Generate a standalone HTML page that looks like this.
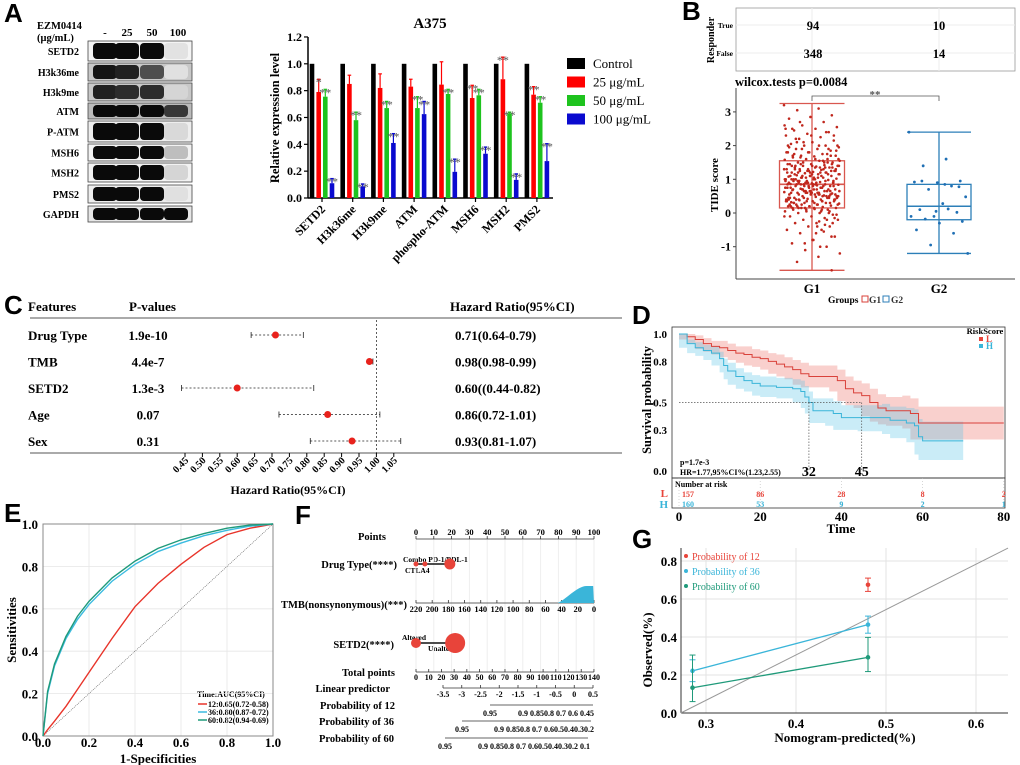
<!DOCTYPE html>
<html><head><meta charset="utf-8">
<style>
html,body{margin:0;padding:0;background:#fff;}
svg{display:block;font-family:"Liberation Serif",serif;}
.b{font-weight:bold;}
.L{font-family:"Liberation Sans",sans-serif;font-weight:bold;}
</style></head>
<body>
<svg id="fig" width="1020" height="765" viewBox="0 0 1020 765" xmlns="http://www.w3.org/2000/svg">
<rect width="1020" height="765" fill="#fff"/>
<text class="L" x="4" y="22" font-size="26">A</text>
<text class="L" x="682" y="20" font-size="26">B</text>
<text class="L" x="4" y="314" font-size="26">C</text>
<text class="L" x="632" y="324" font-size="26">D</text>
<text class="L" x="4" y="522" font-size="26">E</text>
<text class="L" x="295" y="524" font-size="26">F</text>
<text class="L" x="632" y="548" font-size="26">G</text>

<g id="blot" font-size="11" class="b">
<text x="37" y="29" font-size="10.5" font-weight="bold">EZM0414</text>
<text x="37" y="41" font-size="10.5" font-weight="bold">(μg/mL)</text>
<text x="105" y="36" font-weight="bold" text-anchor="middle">-</text>
<text x="127" y="36" font-weight="bold" text-anchor="middle">25</text>
<text x="152" y="36" font-weight="bold" text-anchor="middle">50</text>
<text x="178" y="36" font-weight="bold" text-anchor="middle">100</text>
</g>

<g id="barchart">
<text x="430" y="28" font-size="15" class="b" text-anchor="middle">A375</text>
<text transform="translate(279,118) rotate(-90)" font-size="12.5" class="b" text-anchor="middle">Relative expression level</text>
</g>

<g id="panelB">
<rect x="736" y="8" width="279" height="63" fill="none" stroke="#999" stroke-width="0.8"/>
<line x1="736" y1="25" x2="1015" y2="25" stroke="#eee"/>
<line x1="736" y1="53" x2="1015" y2="53" stroke="#eee"/>
<line x1="812" y1="8" x2="812" y2="71" stroke="#eee"/>
<line x1="939" y1="8" x2="939" y2="71" stroke="#eee"/>
<text transform="translate(714,40) rotate(-90)" font-size="10" class="b" text-anchor="middle">Responder</text>
<text x="733" y="28" font-size="7.5" class="b" text-anchor="end">True</text>
<text x="733" y="56" font-size="7.5" class="b" text-anchor="end">False</text>
<text x="813" y="30" font-size="12.5" class="b" text-anchor="middle">94</text>
<text x="939" y="30" font-size="12.5" class="b" text-anchor="middle">10</text>
<text x="813" y="58" font-size="12.5" class="b" text-anchor="middle">348</text>
<text x="939" y="58" font-size="12.5" class="b" text-anchor="middle">14</text>
<text x="735" y="86" font-size="12.5" class="b">wilcox.tests p=0.0084</text>
<line x1="736" y1="88" x2="736" y2="279" stroke="#444" stroke-width="1"/>
<line x1="736" y1="279" x2="1015" y2="279" stroke="#444" stroke-width="1"/>
<text transform="translate(718,185) rotate(-90)" font-size="11" class="b" text-anchor="middle">TIDE score</text>
<text x="812" y="293" font-size="13" class="b" text-anchor="middle">G1</text>
<text x="939" y="293" font-size="13" class="b" text-anchor="middle">G2</text>
<g font-size="9.5" class="b">
<text x="828" y="303">Groups</text>
<rect x="862" y="296" width="6" height="6" fill="none" stroke="#d9413a"/><text x="869" y="303" fill="#333">G1</text>
<rect x="883" y="296" width="6" height="6" fill="none" stroke="#2c7fb8"/><text x="891" y="303" fill="#333">G2</text>
</g>
<path d="M812,101 V96 H939 V101" fill="none" stroke="#555" stroke-width="0.8"/>
<text x="875" y="98" font-size="11" class="b" fill="#555" text-anchor="middle">**</text>
</g>

<g id="panelC" font-size="13" class="b">
<text x="28" y="311" font-weight="bold">Features</text>
<text x="129" y="311" font-weight="bold">P-values</text>
<text x="450" y="311" font-weight="bold">Hazard Ratio(95%CI)</text>
<line x1="30" y1="318" x2="622" y2="318" stroke="#555" stroke-width="1"/>
<text x="288" y="494" font-weight="bold" font-size="12" text-anchor="middle">Hazard Ratio(95%CI)</text>
</g>

<g id="panelD">
<text transform="translate(651,400) rotate(-90)" font-size="12.5" class="b" text-anchor="middle">Survival probability</text>
<text x="841" y="533" font-size="13" class="b" text-anchor="middle">Time</text>
<text x="985" y="334" font-size="8.5" class="b" text-anchor="middle">RiskScore</text>
<rect x="979" y="337" width="4" height="4" fill="#e8443a"/><text x="986" y="342" font-size="9" class="b" fill="#e8443a">L</text>
<rect x="979" y="344" width="4" height="4" fill="#3ab5d9"/><text x="986" y="349" font-size="9" class="b" fill="#3ab5d9">H</text>
<text x="680" y="465" font-size="8" class="b">p=1.7e-3</text>
<text x="680" y="475" font-size="8" class="b">HR=1.77,95%CI%(1.23,2.55)</text>
<rect x="672" y="478" width="333" height="30" fill="none" stroke="#333" stroke-width="0.8"/>
<text x="675" y="487" font-size="8" class="b">Number at risk</text>
<text x="668" y="497" font-size="11" class="b" fill="#e8443a" text-anchor="end">L</text>
<text x="668" y="508" font-size="11" class="b" fill="#3ab5d9" text-anchor="end">H</text>
</g>

<g id="panelE">
<text transform="translate(16,630) rotate(-90)" font-size="13" class="b" text-anchor="middle">Sensitivities</text>
<text x="158" y="763" font-size="13" class="b" text-anchor="middle">1-Specificities</text>
<g font-size="8" class="b">
<text x="197" y="697">Time:AUC(95%CI)</text>
<line x1="198" y1="704" x2="207" y2="704" stroke="#e8342a" stroke-width="1.5"/><text x="208" y="707">12:0.65(0.72-0.58)</text>
<line x1="198" y1="712" x2="207" y2="712" stroke="#3bbbe0" stroke-width="1.5"/><text x="208" y="715">36:0.80(0.87-0.72)</text>
<line x1="198" y1="720" x2="207" y2="720" stroke="#1f9a7a" stroke-width="1.5"/><text x="208" y="723">60:0.82(0.94-0.69)</text>
</g>
</g>

<g id="panelF" class="b">
<g font-size="10.5" text-anchor="end" font-weight="bold">
<text x="372" y="540" text-anchor="middle">Points</text>
<text x="397" y="568">Drug Type(****)</text>
<text x="407" y="608">TMB(nonsynonymous)(***)</text>
<text x="394" y="648">SETD2(****)</text>
<text x="395" y="676">Total points</text>
<text x="390" y="692">Linear predictor</text>
<text x="395" y="709">Probability of 12</text>
<text x="394" y="725">Probability of 36</text>
<text x="394" y="742">Probability of 60</text>
</g>
<text x="403" y="562" font-size="7.5">Combo PD-1/PDL-1</text>
<text x="405" y="573" font-size="7.5">CTLA4</text>
<text x="402" y="640" font-size="7.5">Altered</text>
<text x="428" y="651" font-size="7.5">Unaltered</text>
</g>

<g id="panelG">
<text transform="translate(652,650) rotate(-90)" font-size="13" class="b" text-anchor="middle">Observed(%)</text>
<text x="845" y="742" font-size="13" class="b" text-anchor="middle">Nomogram-predicted(%)</text>
</g>
</svg>

<script>
var NS='http://www.w3.org/2000/svg';
var svg=document.getElementById('fig');
function mk(tag,at,parent){var e=document.createElementNS(NS,tag);for(var k in at)e.setAttribute(k,at[k]);(parent||svg).appendChild(e);return e;}
function tx(x,y,s,at,parent){var e=mk('text',Object.assign({x:x,y:y},at||{}),parent);e.textContent=s;return e;}

/* Panel A blot */
var blotRows=['SETD2','H3k36me','H3k9me','ATM','P-ATM','MSH6','MSH2','PMS2','GAPDH'];
var blotIntensity=[[1,1,1,0.04],[0.95,0.9,0.7,0.05],[0.9,0.85,0.85,0.1],[1,1,1,0.8],[1,1,1,0.08],[1,1,1,0.2],[1,1,1,0.1],[1,1,1,0.05],[1,1,1,1]];
var blotBg=['#f4f4f4','#c8c8c8','#c8c8c8','#bbb','#eee','#f2f2f2','#f2f2f2','#eee','#e6e6e6'];
var blotTop=[41,63,83,103,121,144,163,185,206];
var blotH=[20,18,18,16,21,17,19,18,16];
var laneX=[105,127,152,176];
var blotG=document.getElementById('blot');
blotRows.forEach(function(r,i){
  var y=blotTop[i],h=blotH[i];
  var t=tx(79,y+h/2+4,r,{'font-size':10,'font-weight':'bold','text-anchor':'end'},blotG);
  
  
  var box=mk('rect',{x:88,y:y,width:104,height:h,fill:blotBg[i],stroke:'#444','stroke-width':0.8},blotG);
  
  
  blotIntensity[i].forEach(function(v,j){
    var g=Math.round(235-v*225);
    var band=mk('rect',{x:laneX[j]-12,y:y+2,width:24,height:h-4,rx:4,fill:'rgb('+g+','+g+','+g+')'},blotG);
    
    
  });
});

/* Panel A bar chart */
var barCats=['SETD2','H3k36me','H3k9me','ATM','phospho-ATM','MSH6','MSH2','PMS2'];
var barControl=[1,1,1,1,1,1,1,1];
var bar25=[0.79,0.85,0.82,0.83,0.845,0.745,0.885,0.77];
var bar25Err=[0.095,0.065,0.105,0.055,0.17,0.095,0.165,0.06];
var bar50=[0.755,0.58,0.67,0.67,0.775,0.765,0.63,0.71];
var bar50Err=[0.055,0.06,0.05,0.085,0.035,0.045,0.01,0.045];
var bar100=[0.11,0.085,0.41,0.625,0.195,0.33,0.135,0.275];
var bar100Err=[0.035,0.02,0.07,0.095,0.095,0.05,0.045,0.13];
var barSig25=['*','','','','','**','**','**'];
var barSig50=['**','**','**','**','**','**','**','**'];
var barSig100=['**','**','**','**','**','**','**','**'];
var barTicks=[0,0.2,0.4,0.6,0.8,1.0,1.2];
var barLegend=['Control','25 μg/mL','50 μg/mL','100 μg/mL'];
var barColors=['#000','#ff0000','#1ec31e','#0a0acf'];
var bg=document.getElementById('barchart');
function by(v){return 198-v*134.2;}
function bx(i){return 322+i*30.7;}
mk('line',{x1:308,y1:by(0),x2:308,y2:by(1.2),stroke:'#000','stroke-width':1.5},bg);
mk('line',{x1:308,y1:by(0),x2:553,y2:by(0),stroke:'#000','stroke-width':1.5},bg);
barTicks.forEach(function(t){
  mk('line',{x1:304,y1:by(t),x2:308,y2:by(t),stroke:'#000','stroke-width':1.2},bg);
  tx(302,by(t)+4,t.toFixed(1),{'font-size':12,'font-weight':'bold','text-anchor':'end'},bg);
});
var series=[[barControl,null,null],[bar25,bar25Err,barSig25],[bar50,bar50Err,barSig50],[bar100,bar100Err,barSig100]];
var offs=[-10,-3.3,3.3,10];
barCats.forEach(function(c,i){
  mk('line',{x1:bx(i),y1:by(0),x2:bx(i),y2:by(0)+4,stroke:'#000','stroke-width':1.2},bg);
  var lb=tx(0,0,c,{'font-size':12,'font-weight':'bold','text-anchor':'end',transform:'translate('+(bx(i)+4)+','+(by(0)+12)+') rotate(-45)'},bg);
  
  
  series.forEach(function(s,k){
    var v=s[0][i],x=bx(i)+offs[k]-2.3;
    if(s[1]){
      var e=s[1][i];
      mk('line',{x1:x+2.3,y1:by(v),x2:x+2.3,y2:by(v+e),stroke:barColors[k],'stroke-width':1.2},bg);
      mk('line',{x1:x+0.5,y1:by(v+e),x2:x+4.1,y2:by(v+e),stroke:barColors[k],'stroke-width':1.2},bg);
      if(s[2][i]) tx(x+2.3,by(v+e)+7,s[2][i],{'font-size':12,fill:'#555','text-anchor':'middle'},bg);
    }
    var r=mk('rect',{x:x,y:by(v),width:4.6,height:by(0)-by(v),fill:barColors[k]},bg);
    
    
  });
});
barLegend.forEach(function(l,k){
  var y=58+k*18.5;
  var sw=mk('rect',{x:567,y:y,width:18,height:11,fill:barColors[k]},bg);
  
  
  tx(593,y+10,l,{'font-size':13},bg);
});

/* Panel B boxplot */
var g1Scores=[3.2,3.1,3.05,2.9,2.85,2.8,2.7,2.6,2.55,2.5,2.45,2.4,2.35,2.3,2.25,2.2,2.15,2.1,2.05,2.0,2.0,1.95,1.9,1.9,1.85,1.8,1.8,1.75,1.7,1.7,1.68,1.65,1.6,1.6,1.58,1.55,1.5,1.5,1.45,1.45,1.42,1.4,1.4,1.38,1.35,1.35,1.3,1.3,1.28,1.25,1.25,1.22,1.2,1.2,1.18,1.15,1.15,1.12,1.1,1.1,1.08,1.05,1.05,1.02,1.0,1.0,0.98,0.95,0.95,0.92,0.9,0.9,0.88,0.86,0.85,0.85,0.84,0.82,0.8,0.8,0.78,0.75,0.75,0.72,0.7,0.7,0.68,0.65,0.65,0.62,0.6,0.6,0.58,0.55,0.55,0.52,0.5,0.5,0.48,0.45,0.45,0.42,0.4,0.4,0.38,0.35,0.35,0.32,0.3,0.3,0.28,0.25,0.25,0.22,0.2,0.2,0.18,0.15,0.15,0.12,0.1,0.1,0.05,0.05,0.0,0.0,-0.05,-0.1,-0.1,-0.15,-0.2,-0.2,-0.3,-0.3,-0.4,-0.4,-0.5,-0.5,-0.6,-0.7,-0.8,-0.9,-1.0,-1.1,-1.2,-1.3,-1.45,-1.7,
1.1,0.9,1.3,0.7,0.5,1.6,0.3,1.9,0.6,1.0,1.2,0.4,0.8,1.4,0.2,0.95,0.65,1.15,-0.4,2.2,0.55,0.75,1.45,0.35,0.85,1.25,0.15,1.7,0.45,1.05,2.6,-0.25,0.95,1.35,0.6,0.25,1.5,0.7,2.0,-0.6,1.15,0.5,0.9,1.8,0.05,1.3,0.4,0.8,1.0,2.4,-0.9,0.65,
1.05,0.85,1.25,0.65,0.45,1.55,0.25,1.85,0.55,0.95,1.15,0.35,0.75,1.35,0.15,0.9,0.6,1.1,-0.35,2.1,0.5,0.7,1.4,0.3,0.8,1.2,0.1,1.65,0.4,1.0,2.5,-0.2,0.9,1.3,0.55,0.2,1.45,0.65,1.95,-0.55,1.1,0.45,0.85,1.75,0.0,1.25,0.35,0.75,0.95,2.3,-0.8,0.6,
1.2,0.8,1.4,0.6,0.4,1.7,0.2,2.0,0.5,1.05,1.3,0.3,0.7,1.5,0.1,1.0,0.55,1.2,-0.3,2.3,0.45,0.65,1.5,0.25,0.9,1.3,0.05,1.8,0.35,1.1,2.7,-0.15,0.85,1.4,0.5,0.15,1.55,0.6,2.1,-0.7,1.2,0.4,0.8,1.9,-0.05,1.35,0.3,0.7,0.9,2.5,-1.0,0.55,
0.95,1.15,0.75,1.35,0.45,1.6,0.25,1.0,0.65,1.25,0.85,0.35,1.45,0.55,1.05,0.15,1.75,0.6,-0.1,2.0];
var g2Scores=[2.4,1.6,1.4,0.95,0.9,0.92,0.8,0.7,0.48,0.28,0.1,0.02,-0.1,-0.1,0.12,-0.18,-0.25,-0.3,-0.5,-0.6,-0.95,-1.2,0.85,0.95,0.78,0.05];
var g1Stats=[-1.7,0.15,0.85,1.55,3.25];
var g2Stats=[-1.2,-0.2,0.2,0.85,2.4];
var tideTicks=[-1,0,1,2,3];
var pB=document.getElementById('panelB');
function ty(v){return 213-33.7*v;}
tideTicks.forEach(function(t){
  mk('line',{x1:733,y1:ty(t),x2:736,y2:ty(t),stroke:'#444'},pB);
  tx(731,ty(t)+4,String(t),{'font-size':12,'font-weight':'bold','text-anchor':'end'},pB);
});
function box(cx,st,col,w,name){
  var g=mk('g',{},pB);
  
  
  mk('line',{x1:cx,y1:ty(st[0]),x2:cx,y2:ty(st[4]),stroke:col,'stroke-width':1.3},g);
  mk('line',{x1:cx-w/2,y1:ty(st[0]),x2:cx+w/2,y2:ty(st[0]),stroke:col,'stroke-width':1.3},g);
  mk('line',{x1:cx-w/2,y1:ty(st[4]),x2:cx+w/2,y2:ty(st[4]),stroke:col,'stroke-width':1.3},g);
  mk('rect',{x:cx-w/2,y:ty(st[3]),width:w,height:ty(st[1])-ty(st[3]),fill:'none',stroke:col,'stroke-width':1.3},g);
  mk('line',{x1:cx-w/2,y1:ty(st[2]),x2:cx+w/2,y2:ty(st[2]),stroke:col,'stroke-width':1.6},g);
}
box(812,g1Stats,'#d9574f',65,'box-g1');
box(939,g2Stats,'#2c7fb8',64,'box-g2');
g1Scores.forEach(function(v,i){
  var j=((i*0.618034)%1-0.5)*56;
  var c=mk('circle',{cx:812+j,cy:ty(v),r:1.3,fill:'#c0271d'},pB);
  
  
});
g2Scores.forEach(function(v,i){
  var j=((i*0.618034)%1-0.5)*60;
  var c=mk('circle',{cx:939+j,cy:ty(v),r:1.4,fill:'#1f6fb4'},pB);
  
  
});

/* Panel C forest */
var fFeatures=['Drug Type','TMB','SETD2','Age','Sex'];
var fP=['1.9e-10','4.4e-7','1.3e-3','0.07','0.31'];
var fHR=[0.71,0.98,0.60,0.86,0.93];
var fLo=[0.64,0.98,0.44,0.72,0.81];
var fHi=[0.79,0.99,0.82,1.01,1.07];
var fText=['0.71(0.64-0.79)','0.98(0.98-0.99)','0.60((0.44-0.82)','0.86(0.72-1.01)','0.93(0.81-1.07)'];
var fTicks=[0.45,0.5,0.55,0.6,0.65,0.7,0.75,0.8,0.85,0.9,0.95,1.0,1.05];
var pC=document.getElementById('panelC');
function fx(v){return 185+(v-0.45)*348;}
fFeatures.forEach(function(f,i){
  var y=340+i*26.5;
  tx(28,y,f,{},pC);
  tx(148,y,fP[i],{'text-anchor':'middle'},pC);
  tx(455,y,fText[i],{},pC);
  var ln=mk('line',{x1:fx(fLo[i]),y1:y-5,x2:fx(fHi[i]),y2:y-5,stroke:'#222','stroke-width':0.8,'stroke-dasharray':'2,2'},pC);
  
  
  mk('line',{x1:fx(fLo[i]),y1:y-8,x2:fx(fLo[i]),y2:y-2,stroke:'#222','stroke-width':0.8},pC);
  mk('line',{x1:fx(fHi[i]),y1:y-8,x2:fx(fHi[i]),y2:y-2,stroke:'#222','stroke-width':0.8},pC);
  var pt=mk('circle',{cx:fx(fHR[i]),cy:y-5,r:3.5,fill:'#e8221c'},pC);
  
  
});
mk('line',{x1:fx(1),y1:320,x2:fx(1),y2:453,stroke:'#333','stroke-width':0.8,'stroke-dasharray':'2,2'},pC);
mk('line',{x1:30,y1:453,x2:622,y2:453,stroke:'#555','stroke-width':1},pC);
fTicks.forEach(function(t){
  mk('line',{x1:fx(t),y1:453,x2:fx(t),y2:457,stroke:'#000'},pC);
  tx(0,0,t.toFixed(2),{'font-size':10,'text-anchor':'end',transform:'translate('+(fx(t)+4)+',461) rotate(-45)'},pC);
});

/* Panel D KM */
var kmTimeL=[0,2,4,6,8,10,12,14,16,18,20,22,24,26,28,30,32,37,39,41,43,45,47,49,51,55,57,59,80];
var kmSurvL=[1,.98,.96,.93,.91,.9,.88,.86,.85,.83,.82,.8,.78,.76,.74,.71,.69,.69,.66,.6,.57,.55,.5,.46,.44,.44,.42,.35,.35];
var kmCiL=[0,.02,.03,.04,.04,.05,.05,.05,.06,.06,.06,.06,.07,.07,.07,.08,.08,.08,.08,.09,.09,.09,.1,.1,.1,.11,.11,.12,.12];
var kmTimeH=[0,2,4,6,8,10,11,12,14,16,18,20,24,28,30,31,32,33,36,38,40,44,50,52,56,58,59,60,70];
var kmSurvH=[1,.93,.9,.88,.86,.82,.77,.73,.69,.66,.64,.62,.61,.6,.58,.54,.5,.44,.44,.42,.39,.39,.39,.37,.35,.33,.25,.22,.22];
var kmCiH=[0,.03,.04,.04,.05,.05,.05,.06,.06,.06,.06,.07,.07,.07,.08,.08,.08,.09,.09,.09,.09,.09,.1,.1,.11,.12,.13,.14,.14];
var kmXTicks=[0,20,40,60,80];
var kmYTicks=[0,0.3,0.5,0.8,1.0];
var riskL=[157,86,28,8,2];
var riskH=[160,53,9,2,1];
var kmMedians=[32,45];
var pD=document.getElementById('panelD');
function kx(t){return 679+t*4.06;}
function ky(v){return 471-v*137;}
mk('rect',{x:672,y:327,width:333,height:151,fill:'none',stroke:'#333','stroke-width':0.8},pD);
kmYTicks.forEach(function(t){tx(667,ky(t)+4,t.toFixed(1),{'font-size':11,'font-weight':'bold','text-anchor':'end'},pD);});
kmXTicks.forEach(function(t,i){
  tx(kx(t),521,String(t),{'font-size':13,'font-weight':'bold','text-anchor':'middle'},pD);
  mk('line',{x1:kx(t),y1:478,x2:kx(t),y2:508,stroke:'#bbb','stroke-dasharray':'1,2','stroke-width':0.6},pD);
  tx(kx(t)+(i==0?3:0),497,String(riskL[i]),{'font-size':8,'font-weight':'bold',fill:'#e8443a','text-anchor':i==0?'start':'middle'},pD);
  tx(kx(t)+(i==0?3:0),507,String(riskH[i]),{'font-size':8,'font-weight':'bold',fill:'#3ab5d9','text-anchor':i==0?'start':'middle'},pD);
});
function stepPath(ts,vs){var d='M'+kx(ts[0])+','+ky(vs[0]);for(var i=1;i<ts.length;i++){d+=' H'+kx(ts[i])+' V'+ky(vs[i]);}return d;}
function band(ts,vs,cs,col,name){
  var up=[],lo=[];for(var i=0;i<ts.length;i++){up.push(Math.min(1,vs[i]+cs[i]));lo.push(Math.max(0,vs[i]-cs[i]));}
  var d='M'+kx(ts[0])+','+ky(up[0]);
  for(var i=1;i<ts.length;i++){d+=' H'+kx(ts[i])+' V'+ky(up[i]);}
  for(var i=ts.length-1;i>0;i--){d+=' V'+ky(lo[i])+' H'+kx(ts[i-1]);}
  d+=' V'+ky(lo[0])+'Z';
  var p=mk('path',{d:d,fill:col},pD);
  
  
}
band(kmTimeL,kmSurvL,kmCiL,'rgba(235,110,100,0.32)','ci-band-l');
band(kmTimeH,kmSurvH,kmCiH,'rgba(90,195,230,0.32)','ci-band-h');
var cl=mk('path',{d:stepPath(kmTimeL,kmSurvL),fill:'none',stroke:'#d9413a','stroke-width':1},pD);


var ch=mk('path',{d:stepPath(kmTimeH,kmSurvH),fill:'none',stroke:'#3ab5d9','stroke-width':1},pD);


mk('line',{x1:kx(0),y1:ky(0.5),x2:kx(kmMedians[1]),y2:ky(0.5),stroke:'#555','stroke-dasharray':'1.5,1.5','stroke-width':0.7},pD);
kmMedians.forEach(function(m){
  mk('line',{x1:kx(m),y1:ky(0.5),x2:kx(m),y2:ky(0),stroke:'#555','stroke-dasharray':'1.5,1.5','stroke-width':0.7},pD);
  tx(kx(m),476,String(m),{'font-size':14,'font-weight':'bold','text-anchor':'middle'},pD);
});

/* Panel E ROC */
var rocFpr=[0,0.02,0.05,0.1,0.15,0.2,0.3,0.4,0.5,0.6,0.7,0.8,0.9,1];
var roc12=[0,0.03,0.07,0.14,0.22,0.3,0.46,0.61,0.72,0.81,0.89,0.95,0.98,1];
var roc36=[0,0.2,0.33,0.46,0.55,0.62,0.73,0.81,0.87,0.91,0.945,0.97,0.99,1];
var roc60=[0,0.21,0.34,0.47,0.565,0.635,0.745,0.825,0.885,0.925,0.955,0.98,0.995,1];
var rocTicks=[0,0.2,0.4,0.6,0.8,1.0];
var pE=document.getElementById('panelE');
function ex(v){return 43+v*230;}
function ey(v){return 736-v*212;}
rocTicks.forEach(function(t){
  mk('line',{x1:ex(t),y1:ey(0),x2:ex(t),y2:ey(1),stroke:'#e6e6e6','stroke-width':0.8},pE);
  mk('line',{x1:ex(0),y1:ey(t),x2:ex(1),y2:ey(t),stroke:'#e6e6e6','stroke-width':0.8},pE);
  tx(38,ey(t)+5,t.toFixed(1),{'font-size':13,'font-weight':'bold','text-anchor':'end'},pE);
  tx(ex(t),747,t.toFixed(1),{'font-size':13,'font-weight':'bold','text-anchor':'middle'},pE);
});
mk('rect',{x:ex(0),y:ey(1),width:230,height:212,fill:'none',stroke:'#888','stroke-width':1},pE);
mk('line',{x1:ex(0),y1:ey(0),x2:ex(1),y2:ey(1),stroke:'#555','stroke-width':0.6,'stroke-dasharray':'1,1'},pE);
[[roc12,'#e8342a','roc-12'],[roc36,'#3bbbe0','roc-36'],[roc60,'#1f9a7a','roc-60']].forEach(function(s){
  var d=rocFpr.map(function(f,i){return (i?'L':'M')+ex(f)+','+ey(s[0][i]);}).join(' ');
  var p=mk('path',{d:d,fill:'none',stroke:s[1],'stroke-width':1.4},pE);
  
  
});

/* Panel F nomogram */
var pF=document.getElementById('panelF');
var nomoPoints=[0,10,20,30,40,50,60,70,80,90,100];
var nomoTotal=[0,10,20,30,40,50,60,70,80,90,100,110,120,130,140];
var nomoTmb=[220,200,180,160,140,120,100,80,60,40,20,0];
var nomoLp=[-3.5,-3,-2.5,-2,-1.5,-1,-0.5,0,0.5];
var drugPts=[0,5,19];
var setd2Pts=[0,22];
function npx(p){return 416+p*1.78;}
function ntx(p){return 416+p*1.271;}
function axis(y,vals,pos,lab,fs){
  mk('line',{x1:pos(vals[0]),y1:y,x2:pos(vals[vals.length-1]),y2:y,stroke:'#333','stroke-width':0.8},pF);
  vals.forEach(function(v){
    mk('line',{x1:pos(v),y1:y,x2:pos(v),y2:y-3,stroke:'#333','stroke-width':0.8},pF);
    if(lab) tx(pos(v),y+lab,String(v),{'font-size':fs||8.5,'text-anchor':'middle','font-weight':'bold'},pF);
  });
}
nomoPoints.forEach(function(p){mk('line',{x1:npx(p),y1:539,x2:npx(p),y2:672,stroke:'#eee','stroke-width':1},pF);});
axis(539,nomoPoints,npx,-4,8.5);
axis(672,nomoTotal,ntx,8,8);
axis(603,nomoTmb,function(v){return 416+(220-v)*0.809;},9,8.5);
axis(688,nomoLp,function(v){return 443+(v+3.5)*37.5;},9,8);
mk('path',{d:'M'+(416+175*0.809)+',603 C'+(416+185*0.809)+',600 '+(416+200*0.809)+',585 '+(416+212*0.809)+',586 L'+(416+219*0.809)+',586 L'+(416+220*0.809)+',603 Z',fill:'#3ab5d9'},pF);
mk('line',{x1:npx(drugPts[0]),y1:564,x2:npx(drugPts[2]),y2:564,stroke:'#111','stroke-width':1.5},pF);
[[drugPts[0],2.5],[drugPts[1],2.5],[drugPts[2],5.5]].forEach(function(d){
  var c=mk('circle',{cx:npx(d[0]),cy:564,r:d[1],fill:'#e8443a'},pF);
  
  
});
mk('line',{x1:npx(setd2Pts[0]),y1:643,x2:npx(setd2Pts[1]),y2:643,stroke:'#111','stroke-width':1.5},pF);
var c1=mk('circle',{cx:npx(setd2Pts[0]),cy:643,r:5,fill:'#e8443a'},pF);


var c2=mk('circle',{cx:npx(setd2Pts[1]),cy:643,r:10,fill:'#e8443a'},pF);


mk('line',{x1:490,y1:705,x2:593,y2:705,stroke:'#333','stroke-width':0.8},pF);
tx(490,716,'0.95',{'font-size':8,'font-weight':'bold','text-anchor':'middle'},pF);
tx(594,716,'0.9 0.850.8  0.7  0.6  0.45',{'font-size':8,'font-weight':'bold','text-anchor':'end'},pF);
mk('line',{x1:462,y1:721,x2:591,y2:721,stroke:'#333','stroke-width':0.8},pF);
tx(462,732,'0.95',{'font-size':8,'font-weight':'bold','text-anchor':'middle'},pF);
tx(594,732,'0.9 0.850.8  0.7  0.60.50.40.30.2',{'font-size':8,'font-weight':'bold','text-anchor':'end'},pF);
mk('line',{x1:445,y1:738,x2:588,y2:738,stroke:'#333','stroke-width':0.8},pF);
tx(445,749,'0.95',{'font-size':8,'font-weight':'bold','text-anchor':'middle'},pF);
tx(590,749,'0.9 0.850.8  0.7  0.60.50.40.30.2 0.1',{'font-size':8,'font-weight':'bold','text-anchor':'end'},pF);

/* Panel G calibration */
var calPred=[0.285,0.48];
var cal12=[null,0.675];var cal12Lo=[null,0.64];var cal12Hi=[null,0.71];
var cal36=[0.222,0.465];var cal36Lo=[0.165,0.42];var cal36Hi=[0.28,0.51];
var cal60=[0.133,0.293];var cal60Lo=[0.06,0.218];var cal60Hi=[0.305,0.398];
var calXTicks=[0.3,0.4,0.5,0.6];
var calYTicks=[0,0.2,0.4,0.6,0.8];
var pG=document.getElementById('panelG');
function gx(v){return 706+(v-0.3)*900;}
function gy(v){return 713-v*190;}
calXTicks.forEach(function(t){
  mk('line',{x1:gx(t),y1:gy(0),x2:gx(t),y2:548,stroke:'#e3e3e3','stroke-width':1},pG);
  tx(gx(t),728,t.toFixed(1),{'font-size':13,'font-weight':'bold','text-anchor':'middle'},pG);
});
calYTicks.forEach(function(t){
  mk('line',{x1:681,y1:gy(t),x2:1008,y2:gy(t),stroke:'#e3e3e3','stroke-width':1},pG);
  tx(677,gy(t)+5,t.toFixed(1),{'font-size':13,'font-weight':'bold','text-anchor':'end'},pG);
});
mk('line',{x1:681,y1:548,x2:681,y2:713,stroke:'#333','stroke-width':1},pG);
mk('line',{x1:681,y1:713,x2:1008,y2:713,stroke:'#333','stroke-width':1},pG);
mk('line',{x1:gx(0.272),y1:gy(0),x2:gx(0.6356),y2:gy(0.868),stroke:'#999','stroke-width':1},pG);
[[cal12,cal12Lo,cal12Hi,'#e8443a','cal-12'],[cal36,cal36Lo,cal36Hi,'#3ab5d9','cal-36'],[cal60,cal60Lo,cal60Hi,'#1f9a7a','cal-60']].forEach(function(s){
  var pts=[];
  calPred.forEach(function(p,i){
    if(s[0][i]==null)return;
    pts.push(gx(p)+','+gy(s[0][i]));
    mk('line',{x1:gx(p),y1:gy(s[1][i]),x2:gx(p),y2:gy(s[2][i]),stroke:s[3],'stroke-width':1},pG);
    mk('line',{x1:gx(p)-3,y1:gy(s[1][i]),x2:gx(p)+3,y2:gy(s[1][i]),stroke:s[3]},pG);
    mk('line',{x1:gx(p)-3,y1:gy(s[2][i]),x2:gx(p)+3,y2:gy(s[2][i]),stroke:s[3]},pG);
    var c=mk('circle',{cx:gx(p),cy:gy(s[0][i]),r:2.3,fill:s[3]},pG);
    
    
  });
  if(pts.length>1){
    var l=mk('polyline',{points:pts.join(' '),fill:'none',stroke:s[3],'stroke-width':1.3},pG);
    
    
  }
});
[['Probability of 12','#e8443a'],['Probability of 36','#3ab5d9'],['Probability of 60','#1f9a7a']].forEach(function(l,i){
  var y=556+i*15;
  mk('circle',{cx:686,cy:y,r:2,fill:l[1]},pG);
  var t=tx(692,y+4,l[0],{'font-size':10,fill:l[1]},pG);
  
  
});
</script>
</body></html>
